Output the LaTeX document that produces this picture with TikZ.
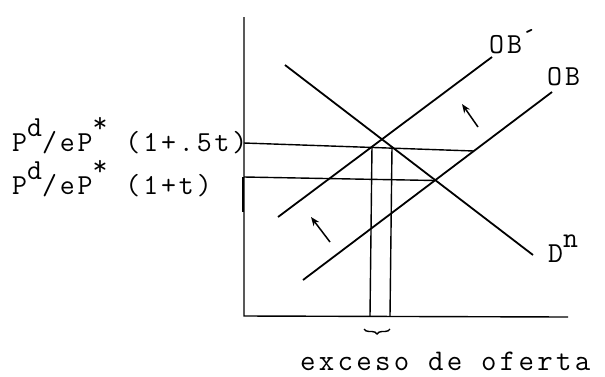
\documentclass[tikz,border=0pt]{standalone}
\usepackage{fontspec}
\newfontfamily\twa[LetterSpace=10]{Latin Modern Mono}
\newfontfamily\twb[LetterSpace=11]{Latin Modern Mono}
\usetikzlibrary{arrows.meta,decorations.pathreplacing}
\begin{document}
\begin{tikzpicture}[x=1pt,y=-1pt,
  curveline/.style={line width=1.8pt},
  axisline/.style={line width=1.4pt},
  guideline/.style={line width=1.4pt},
  lblstyle/.style={font=\twa\fontsize{29}{32}\selectfont, inner sep=0pt, anchor=base west},
  shiftarrow/.style={line width=1.5pt,-{Stealth[length=9pt,width=7pt]}}]
\useasboundingbox (0,0) rectangle (605,376);
% coordinates
\coordinate (ytop) at (244,17);
\coordinate (orig) at (244,316);
\coordinate (xend) at (568,317);
\coordinate (obpA) at (278,217); \coordinate (obpB) at (492,57);
\coordinate (obA) at (303,280); \coordinate (obB) at (552,92);
\coordinate (dA) at (285,65); \coordinate (dB) at (533,255);
\coordinate (h1a) at (244,143); \coordinate (h1b) at (474,151);
\coordinate (h2a) at (244,177); \coordinate (h2b) at (435,180.5);
\coordinate (v1t) at (372,146); \coordinate (v1b) at (370,316);
\coordinate (v2t) at (392,147); \coordinate (v2b) at (390,316);
\coordinate (ta) at (243,177); \coordinate (tb) at (243,212);
\coordinate (a1s) at (478,127); \coordinate (a1e) at (462,104);
\coordinate (a2s) at (330,242); \coordinate (a2e) at (311,217);
\coordinate (bra) at (390,329); \coordinate (brb) at (364,329);
% axes
\draw[axisline] (ytop) -- (orig) -- (xend);
\draw[line width=2.6pt] (ta) -- (tb);
% horizontal price lines
\draw[guideline] (h1a) -- (h1b);
\draw[guideline] (h2a) -- (h2b);
% verticals
\draw[guideline] (v1t) -- (v1b);
\draw[guideline] (v2t) -- (v2b);
% curves
\draw[curveline] (obpA) -- (obpB);
\draw[curveline] (obA) -- (obB);
\draw[curveline] (dA) -- (dB);
% arrows
\draw[shiftarrow] (a1s) -- (a1e);
\draw[shiftarrow] (a2s) -- (a2e);
% brace
\draw[decorate,decoration={brace,amplitude=5pt},line width=1.4pt] (bra) -- (brb);
% labels
\node[lblstyle] (lobp) at (489,53) {OB\raisebox{.2em}{´}};
\node[lblstyle] (lob) at (547,85) {OB};
\node[lblstyle] (ldn) at (548,262) {D\raisebox{.5em}{n}};
\node[lblstyle] (lp1) at (12,151) {P\raisebox{.5em}{d}/eP\raisebox{.65em}{*} (1+.5t)};
\node[lblstyle] (lp2) at (12,194) {P\raisebox{.5em}{d}/eP\raisebox{.65em}{*} (1+t)};
\node[lblstyle,font=\twb\fontsize{30}{33}\selectfont] (lex) at (300,370) {exceso de oferta};
\end{tikzpicture}
\end{document}
